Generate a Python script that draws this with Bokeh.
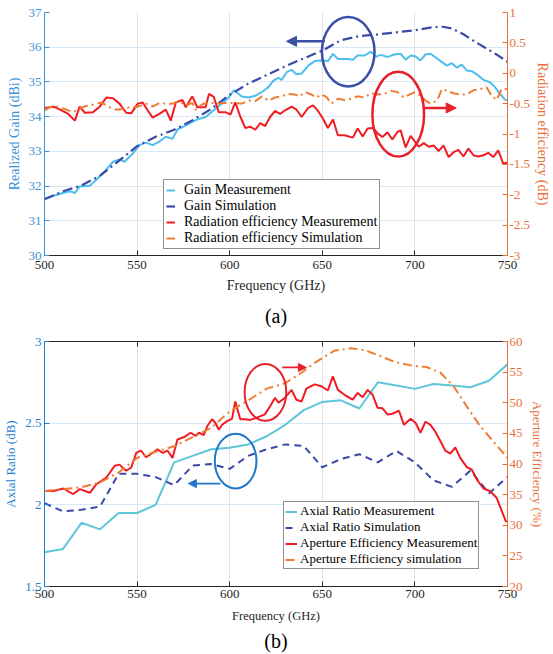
from bokeh.plotting import figure
from bokeh.models import (Range1d, LinearAxis, FixedTicker, CustomJSTickFormatter,
                          Legend, LegendItem, Arrow, NormalHead, Title)
from bokeh.layouts import column
from bokeh.embed import file_html
from bokeh.resources import INLINE

FONT = "Liberation Serif"

# ---------------- (a) data ----------------
gain_meas_f = [500, 505, 508.4, 513.7, 516.4, 519, 524.4, 528, 532.5, 537, 540.5, 543.2, 547.7,
               551.2, 554.8, 558.4, 562, 565.5, 569.1, 571.8, 576.3, 581.6, 587, 592.3, 596.8,
               599.5, 602.2, 606.6, 610.2, 613.8, 617.4, 620.9, 623.6, 626.3, 628, 630.8, 633.4,
               636, 638.8, 642.4, 645.9, 649.5, 653, 655.8, 658.4, 663.8, 666.5, 669.1, 672.7,
               676.3, 679, 681.6, 685.2, 688.8, 692.3, 695, 697.7, 700.3, 703, 705.7, 708.4, 711,
               714.6, 717.3, 720, 722.7, 725.3, 728, 730.7, 733.4, 737, 740.5, 743.2, 745.9,
               748.6, 750]
gain_meas = [31.63, 31.72, 31.78, 31.85, 31.80, 31.99, 32.01, 32.18, 32.42, 32.70, 32.77, 32.70,
             32.94, 33.18, 33.25, 33.18, 33.28, 33.42, 33.36, 33.63, 33.75, 33.90, 33.99, 34.23,
             34.42, 34.55, 34.76, 34.58, 34.55, 34.60, 34.71, 34.85, 35.04, 35.12, 35.06, 35.28,
             35.35, 35.22, 35.24, 35.47, 35.60, 35.62, 35.60, 35.81, 35.66, 35.66, 35.64, 35.76,
             35.76, 35.87, 35.73, 35.78, 35.72, 35.79, 35.81, 35.64, 35.76, 35.74, 35.62, 35.79,
             35.81, 35.71, 35.57, 35.47, 35.54, 35.41, 35.50, 35.33, 35.31, 35.22, 35.06, 34.99,
             34.85, 34.66, 34.49, 34.48]

gain_sim_f = [500, 510, 520, 530, 540, 550, 560, 570, 580, 590, 600, 610, 620, 630, 640, 650,
              660, 670, 680, 690, 700, 710, 715, 720, 726, 733, 740, 745, 750]
gain_sim = [31.62, 31.85, 32.02, 32.30, 32.72, 33.15, 33.42, 33.62, 33.90, 34.22, 34.63, 34.95,
            35.20, 35.45, 35.68, 35.90, 36.20, 36.32, 36.37, 36.43, 36.49, 36.58, 36.59, 36.54,
            36.38, 36.14, 35.92, 35.76, 35.58]

rad_meas_f = [500, 505, 508.4, 512.8, 516.4, 519, 521.8, 526.2, 529.8, 533.4, 537, 540.5, 544.1,
              546.8, 550.4, 553, 555.7, 558.4, 562, 565.5, 568.2, 570.9, 574.5, 576.3, 579.8,
              582.5, 587, 588.8, 591.4, 594.1, 597.7, 600.4, 603, 605.8, 608.4, 611.1, 613.8,
              616.5, 619.1, 621.8, 624.5, 627.2, 629.9, 633.4, 636.1, 638.8, 642.4, 645, 647.7,
              650.4, 653, 655.8, 658.4, 662, 666.5, 669.1, 671.8, 674.5, 677.2, 679.9, 682.5,
              685.2, 687.8, 690.5, 692.3, 695, 697.7, 699.4, 702.1, 704.8, 707.5, 710.2, 712.8,
              715.5, 718.2, 720.9, 723.5, 726.2, 728.9, 731.6, 734.3, 737, 739.6, 742.3, 745,
              747.7, 750]
rad_meas = [-0.57, -0.55, -0.60, -0.67, -0.78, -0.55, -0.65, -0.64, -0.55, -0.40, -0.41, -0.50,
            -0.65, -0.66, -0.50, -0.48, -0.61, -0.73, -0.67, -0.60, -0.78, -0.48, -0.44, -0.56,
            -0.38, -0.56, -0.56, -0.34, -0.39, -0.64, -0.64, -0.68, -0.48, -0.72, -0.90, -0.88,
            -0.93, -0.82, -0.87, -0.72, -0.62, -0.67, -0.61, -0.55, -0.60, -0.72, -0.57, -0.53,
            -0.62, -0.75, -0.90, -0.76, -1.02, -1.02, -1.06, -0.91, -1.04, -0.91, -0.90, -0.99,
            -1.05, -0.97, -1.09, -0.97, -0.94, -1.22, -1.03, -1.10, -1.21, -1.15, -1.21, -1.19,
            -1.28, -1.19, -1.38, -1.30, -1.26, -1.37, -1.24, -1.35, -1.37, -1.35, -1.31, -1.38,
            -1.27, -1.49, -1.47]

rad_sim_f = [500, 505, 510, 515.5, 521, 524.4, 530.7, 535.2, 538.8, 542.3, 545.9, 550.4, 554.8,
             558.4, 562, 565.5, 569.1, 572.7, 576.3, 579.8, 581.6, 585.2, 588.8, 592.3, 597.7,
             603, 606.6, 610.2, 613.8, 617.4, 620.9, 624.5, 628, 631.6, 635.2, 637.9, 640.6,
             644.1, 646.8, 649.5, 652.2, 654.9, 658.4, 662, 665.6, 669.1, 672.7, 676.3, 679.9,
             683.4, 687, 690.5, 694.1, 697.7, 700.3, 703, 705.7, 708.4, 712, 714.6, 717.3,
             720.9, 724.4, 728, 731.6, 735.2, 738.7, 741.4, 744.1, 746.8, 750]
rad_sim = [-0.61, -0.53, -0.58, -0.64, -0.55, -0.53, -0.48, -0.56, -0.60, -0.59, -0.56, -0.55,
           -0.50, -0.55, -0.49, -0.50, -0.50, -0.46, -0.53, -0.49, -0.60, -0.51, -0.48, -0.50,
           -0.49, -0.49, -0.50, -0.45, -0.46, -0.38, -0.45, -0.40, -0.38, -0.34, -0.35, -0.38,
           -0.31, -0.35, -0.40, -0.35, -0.39, -0.50, -0.42, -0.44, -0.42, -0.38, -0.40, -0.33,
           -0.35, -0.34, -0.29, -0.31, -0.40, -0.34, -0.31, -0.37, -0.45, -0.50, -0.45, -0.26,
           -0.29, -0.33, -0.35, -0.35, -0.28, -0.26, -0.23, -0.37, -0.44, -0.26, -0.26]

# ---------------- (b) data ----------------
ar_f = [500, 510, 520, 530, 540, 550, 560, 570, 580, 590, 600, 610, 620, 630, 640, 650, 660,
        670, 680, 690, 700, 710, 720, 730, 740, 750]
ar_meas = [1.71, 1.73, 1.89, 1.85, 1.95, 1.95, 2.00, 2.26, 2.30, 2.34, 2.35, 2.37, 2.42, 2.49,
           2.58, 2.63, 2.64, 2.59, 2.75, 2.73, 2.71, 2.74, 2.73, 2.72, 2.76, 2.86]
ar_sim = [2.01, 1.96, 1.97, 1.99, 2.19, 2.19, 2.17, 2.12, 2.24, 2.25, 2.22, 2.30, 2.34, 2.37,
          2.36, 2.23, 2.28, 2.31, 2.26, 2.33, 2.26, 2.15, 2.11, 2.21, 2.07, 2.17]

ae_meas_f = [500, 504.8, 510.2, 515.5, 519.1, 524.5, 528, 533.4, 537.9, 540.5, 544.1, 546.8,
             549.5, 552.1, 554.8, 558.4, 561, 563.8, 566.4, 569.1, 571.8, 575.4, 578.9, 581.6,
             583.4, 586, 587.9, 590.5, 592.3, 594.1, 595.9, 598.6, 601.3, 603, 605.7, 608.4,
             611, 615, 619, 622, 624.5, 626.3, 629.8, 633.4, 636, 638.8, 641.4, 645.9, 649.5,
             653, 655.7, 658.4, 662, 666.4, 669.1, 671.8, 674.5, 677.2, 679.8, 682.5, 685.2,
             687.9, 691.4, 694.1, 697.7, 700.4, 703, 705.7, 708.4, 711, 713.8, 716.4, 719.1,
             721.8, 724.5, 728, 730.7, 733.4, 737, 740.5, 744.1, 746.8, 749, 750]
ae_meas = [35.6, 35.6, 36.0, 35.1, 35.9, 35.3, 36.7, 37.8, 39.7, 39.9, 38.9, 39.4, 41.8, 42.2,
           41.1, 41.8, 42.4, 41.8, 42.2, 41.0, 44.0, 44.4, 45.1, 44.6, 45.1, 44.7, 46.2, 47.3,
           46.7, 45.6, 46.4, 47.0, 47.4, 50.2, 47.3, 47.3, 47.2, 47.6, 48.1, 49.5, 50.8, 50.0,
           50.8, 52.1, 50.5, 50.2, 52.3, 53.0, 52.7, 52.0, 54.3, 52.1, 51.3, 50.5, 51.6, 50.9,
           52.1, 51.3, 49.2, 49.1, 48.1, 48.2, 48.7, 46.4, 47.4, 46.7, 45.1, 46.9, 46.4, 45.3,
           43.7, 42.2, 41.7, 42.7, 41.0, 39.5, 39.1, 37.5, 36.0, 35.6, 34.5, 32.4, 30.7, 30.6]

ae_sim_f = [500, 510, 520, 530, 540, 550, 560, 570, 580, 590, 600, 610, 620, 630, 638.8, 645.9,
            650, 656.6, 665.5, 672.7, 679.8, 688.8, 697.7, 706.6, 713.8, 720.9, 728, 735.2,
            742.3, 750]
ae_sim = [35.6, 35.9, 36.2, 37.0, 38.6, 41.0, 42.0, 42.9, 44.4, 45.9, 48.6, 50.4, 52.3, 53.2,
          54.9, 56.5, 57.3, 58.5, 58.9, 58.6, 57.8, 56.7, 56.1, 55.8, 54.9, 52.7, 49.4, 46.2,
          43.7, 41.0]

x_ticks = [500, 550, 600, 650, 700, 750]
gain_ticks = [30, 31, 32, 33, 34, 35, 36, 37]
eff_ticks = [-3, -2.5, -2, -1.5, -1, -0.5, 0, 0.5, 1]
ar_ticks = [1.5, 2, 2.5, 3]
ae_ticks = [20, 25, 30, 35, 40, 45, 50, 55, 60]

# ---------------- colours ----------------
C_GAIN_AX = "#3a93d8"
C_AR_AX = "#1f80d0"
C_ORANGE_AX = "#e8703a"
C_LBLUE = "#4dbeee"
C_CYAN = "#5ec6d8"
C_DBLUE = "#3a4aa6"
C_RED = "#f01c24"
C_ORANGE = "#f07c34"
C_DARK = "#262626"

fmt = CustomJSTickFormatter(code="return String(Math.round(tick*100)/100);")


def style_axis(ax, color, label, size_lab, size_tick):
    ax.axis_label = label
    ax.axis_label_text_font = FONT
    ax.axis_label_text_font_style = "normal"
    ax.axis_label_text_font_size = size_lab
    ax.axis_label_text_color = color
    ax.major_label_text_font = FONT
    ax.major_label_text_font_size = size_tick
    ax.major_label_text_color = color
    ax.axis_line_color = color
    ax.major_tick_line_color = color
    ax.major_tick_in = 5
    ax.major_tick_out = 0
    ax.minor_tick_line_color = None
    ax.major_label_standoff = 3
    ax.axis_label_standoff = 4
    ax.formatter = fmt


def base_fig(height, top, bottom, yr, extra_name, extra_rng):
    p = figure(width=553, height=height, x_range=Range1d(500, 750), y_range=yr,
               output_backend="svg", toolbar_location=None, title=None,
               min_border_left=44, min_border_right=43, min_border_top=top,
               min_border_bottom=bottom)
    p.outline_line_color = None
    p.background_fill_color = "white"
    p.border_fill_color = "white"
    p.extra_y_ranges = {extra_name: extra_rng}
    p.xgrid.grid_line_color = "#e2e2e2"
    p.ygrid.grid_line_color = "#d9e8f5"
    return p


# ================= (a) =================
p1 = base_fig(333, 12, 77, Range1d(30, 37), "eff", Range1d(-3, 1))
p1.xaxis.ticker = FixedTicker(ticks=x_ticks)
p1.yaxis.ticker = FixedTicker(ticks=gain_ticks)
style_axis(p1.xaxis[0], C_DARK, "Frequency (GHz)", "14px", "13px")
p1.xaxis.major_label_standoff = 5
p1.xaxis.axis_label_standoff = 6
style_axis(p1.yaxis[0], C_GAIN_AX, "Realized Gain (dBi)", "14px", "13px")
ax_r1 = LinearAxis(y_range_name="eff", ticker=FixedTicker(ticks=eff_ticks))
style_axis(ax_r1, C_ORANGE_AX, "Radiation efficiency (dB)", "14px", "13px")
ax_r1.major_label_standoff = 2
ax_r1.axis_label_standoff = 2
p1.add_layout(ax_r1, "right")

r_gm = p1.line(gain_meas_f, gain_meas, line_color=C_LBLUE, line_width=2)
r_gs = p1.line(gain_sim_f, gain_sim, line_color=C_DBLUE, line_width=2.2, line_dash="10 4 2 4")
r_rm = p1.line(rad_meas_f, rad_meas, line_color=C_RED, line_width=2, y_range_name="eff")
r_rs = p1.line(rad_sim_f, rad_sim, line_color=C_ORANGE, line_width=2, line_dash="9 4 2 4",
               y_range_name="eff")

# annotations (a)
p1.ellipse(x=[664], y=[35.87], width=28.4, height=2.0, fill_color=None,
           line_color="#3c4fa8", line_width=2.5)
p1.ellipse(x=[691], y=[34.07], width=27.9, height=2.44, fill_color=None,
           line_color="#e8202a", line_width=2.5)
p1.add_layout(Arrow(end=NormalHead(size=10, fill_color="#3c4fa8", line_color="#3c4fa8"),
                    x_start=651.3, y_start=36.17, x_end=630.7, y_end=36.17,
                    line_color="#3c4fa8", line_width=2.5))
p1.add_layout(Arrow(end=NormalHead(size=10, fill_color="#e8202a", line_color="#e8202a"),
                    x_start=704.8, y_start=34.25, x_end=722.3, y_end=34.25,
                    line_color="#e8202a", line_width=2.5))

leg1 = Legend(items=[LegendItem(label="Gain Measurement", renderers=[r_gm]),
                     LegendItem(label="Gain Simulation", renderers=[r_gs]),
                     LegendItem(label="Radiation efficiency Measurement", renderers=[r_rm]),
                     LegendItem(label="Radiation efficiency Simulation", renderers=[r_rs])],
              location=(119, 6), orientation="vertical")
leg1.label_text_font = FONT
leg1.label_text_font_size = "14px"
leg1.label_text_color = "black"
leg1.border_line_color = "#222222"
leg1.border_line_width = 1
leg1.background_fill_alpha = 1
leg1.padding = 2
leg1.margin = 0
leg1.spacing = 0
leg1.glyph_width = 9
leg1.glyph_height = 16
leg1.label_height = 16
leg1.label_standoff = 9
p1.add_layout(leg1)
p1.add_layout(Title(text="(a)", align="center", text_font=FONT, text_font_size="20px",
                    text_font_style="normal", text_color="black", standoff=14), "below")

# ================= (b) =================
p2 = base_fig(321, 8, 68, Range1d(1.5, 3), "ae", Range1d(20, 60))
p2.xaxis.ticker = FixedTicker(ticks=x_ticks)
p2.yaxis.ticker = FixedTicker(ticks=ar_ticks)
style_axis(p2.xaxis[0], C_DARK, "Frequency (GHz)", "12.5px", "13px")
p2.xaxis.axis_label_standoff = 8
style_axis(p2.yaxis[0], C_AR_AX, "Axial Ratio (dB)", "13px", "13px")
ax_r2 = LinearAxis(y_range_name="ae", ticker=FixedTicker(ticks=ae_ticks))
style_axis(ax_r2, C_ORANGE_AX, "Aperture Efficiency (%)", "13px", "13px")
ax_r2.major_label_standoff = 2
ax_r2.axis_label_standoff = 4
p2.add_layout(ax_r2, "right")
ax_top = LinearAxis(ticker=FixedTicker(ticks=x_ticks))
ax_top.major_label_text_color = None
ax_top.major_label_text_font_size = "1px"
ax_top.axis_line_color = C_DARK
ax_top.major_tick_line_color = C_DARK
ax_top.major_tick_in = 5
ax_top.major_tick_out = 0
ax_top.minor_tick_line_color = None
ax_top.major_label_standoff = 0
p2.add_layout(ax_top, "above")

r_am = p2.line(ar_f, ar_meas, line_color=C_CYAN, line_width=2)
r_as = p2.line(ar_f, ar_sim, line_color=C_DBLUE, line_width=2, line_dash="7 5")
r_em = p2.line(ae_meas_f, ae_meas, line_color=C_RED, line_width=2, y_range_name="ae")
r_es = p2.line(ae_sim_f, ae_sim, line_color=C_ORANGE, line_width=2, line_dash="9 4 2 4",
               y_range_name="ae")

p2.ellipse(x=[619.3], y=[2.689], width=22.5, height=0.348, fill_color=None,
           line_color="#e8202a", line_width=2)
p2.ellipse(x=[603.2], y=[2.268], width=22.5, height=0.335, fill_color=None,
           line_color="#1f78c8", line_width=2)
p2.add_layout(Arrow(end=NormalHead(size=8, fill_color="#e8202a", line_color="#e8202a"),
                    x_start=628.4, y_start=2.841, x_end=641.4, y_end=2.841,
                    line_color="#e8202a", line_width=1.8))
p2.add_layout(Arrow(end=NormalHead(size=8, fill_color="#1f78c8", line_color="#1f78c8"),
                    x_start=595.0, y_start=2.13, x_end=577.7, y_end=2.13,
                    line_color="#1f78c8", line_width=1.8))

leg2 = Legend(items=[LegendItem(label="Axial Ratio Measurement", renderers=[r_am]),
                     LegendItem(label="Axial Ratio Simulation", renderers=[r_as]),
                     LegendItem(label="Aperture Efficiency Measurement", renderers=[r_em]),
                     LegendItem(label="Aperture Efficiency simulation", renderers=[r_es])],
              location=(239, 17), orientation="vertical")
leg2.label_text_font = FONT
leg2.label_text_font_size = "13px"
leg2.label_text_color = "black"
leg2.border_line_color = "#222222"
leg2.border_line_width = 1
leg2.background_fill_alpha = 1
leg2.padding = 1
leg2.margin = 0
leg2.spacing = 0
leg2.glyph_width = 12
leg2.glyph_height = 15
leg2.label_height = 15
leg2.label_standoff = 3
p2.add_layout(leg2)
p2.add_layout(Title(text="(b)", align="center", text_font=FONT, text_font_size="20px",
                    text_font_style="normal", text_color="black", standoff=4), "below")

layout = column(p1, p2)
open("out.html", "w").write(file_html(layout, INLINE))
